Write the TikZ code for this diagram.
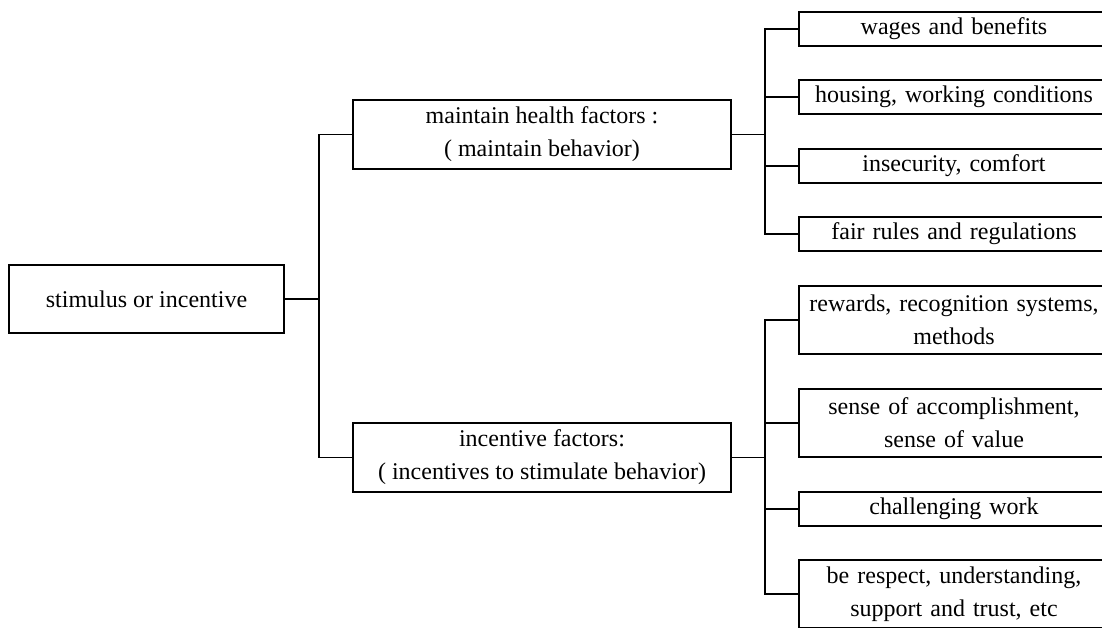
\documentclass[tikz,border=0pt]{standalone}
\usepackage{fontspec}
\setmainfont{Liberation Serif}
\begin{document}
\begin{tikzpicture}[x=1pt,y=-1pt,
  box/.style={draw,line width=1.3pt,inner sep=0pt,align=center,
    font=\fontsize{24}{33}\selectfont},
  leaf/.style={box,minimum width=310pt,text width=300pt},
  conn/.style={line width=1.3pt}]
\useasboundingbox (0,0) rectangle (1102,627);
\clip (0,0) rectangle (1102,627);
% root and middle level
\node[box,minimum width=275pt,minimum height=68pt] (s) at (146.5,299) {stimulus or incentive};
\node[box,minimum width=378pt,minimum height=69pt] (m) at (542,134.5) {maintain health factors :\\( maintain behavior)};
\node[box,minimum width=378pt,minimum height=69pt] (i) at (542,457.5) {incentive factors:\\( incentives to stimulate behavior)};
% leaves (upper)
\node[leaf,minimum height=34pt] (r1) at (954,29) {wages and benefits};
\node[leaf,minimum height=34pt] (r2) at (954,97) {housing, working conditions};
\node[leaf,minimum height=34pt] (r3) at (954,166) {insecurity, comfort};
\node[leaf,minimum height=34pt] (r4) at (954,234) {fair rules and regulations};
% leaves (lower)
\node[leaf,minimum height=68pt] (q1) at (954,320) {rewards, recognition systems,\\methods};
\node[leaf,minimum height=68pt] (q2) at (954,423) {sense of accomplishment,\\sense of value};
\node[leaf,minimum height=34pt] (q3) at (954,509) {challenging work};
\node[leaf,minimum height=68pt] (q4) at (954,594) {be respect, understanding,\\support and trust, etc};
% connectors
\coordinate (t) at (319,299);
\coordinate (bm) at (765,134.5);
\coordinate (bi) at (765,457.5);
\draw[conn] (s.east) -- (t);
\draw[conn] (t) |- (m.west);
\draw[conn] (t) |- (i.west);
\draw[conn] (m.east) -- (bm);
\foreach \n in {r1,r2,r3,r4} \draw[conn] (bm) |- (\n.west);
\draw[conn] (i.east) -- (bi);
\foreach \n in {q1,q2,q3,q4} \draw[conn] (bi) |- (\n.west);
\end{tikzpicture}
\end{document}
